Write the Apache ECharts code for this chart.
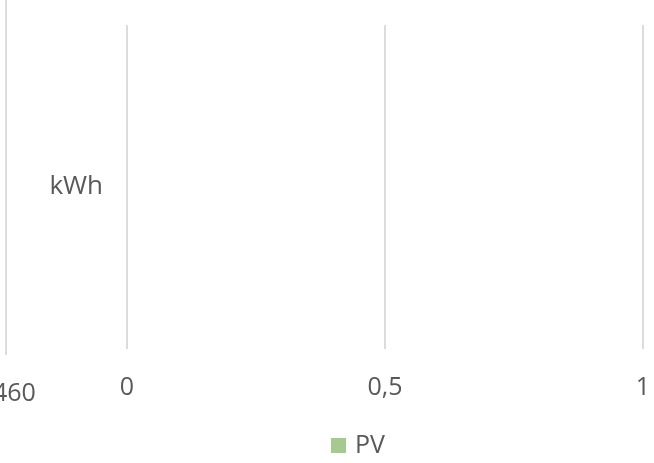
<!DOCTYPE html>
<html>
<head>
<meta charset="utf-8">
<script src="https://cdn.jsdelivr.net/npm/echarts@6/dist/echarts.min.js"></script>
<style>
  html, body { margin: 0; padding: 0; background: #fff; }
  #chart { width: 654px; height: 463px; }
</style>
</head>
<body>
<div id="chart"></div>
<script>
const categories = ['kWh']
const seriesNames = ['PV']
const pvValues = [0]
const axisMin = 0
const axisMax = 1
const axisStep = 0.5

const chart = echarts.init(document.getElementById('chart'))
chart.setOption({
  animation: false,
  textStyle: { fontFamily: 'Open Sans', color: '#595959' },
  grid: { left: 127, right: 11, top: 25, bottom: 114 },
  legend: {
    data: seriesNames,
    bottom: 0,
    left: 326,
    icon: 'rect',
    itemWidth: 15,
    itemHeight: 15,
    itemGap: 6,
    textStyle: { fontSize: 25, color: '#595959', fontFamily: 'Open Sans', padding: [0, 0, 0, 4] }
  },
  xAxis: {
    type: 'value',
    min: axisMin,
    max: axisMax,
    interval: axisStep,
    axisLine: { show: false },
    axisTick: { show: false },
    splitLine: { lineStyle: { color: '#dcdcdc', width: 2 } },
    axisLabel: {
      fontSize: 25,
      color: '#595959',
      margin: 26,
      formatter: v => String(v).replace('.', ',')
    }
  },
  yAxis: {
    type: 'category',
    data: categories,
    axisLine: { show: false },
    axisTick: { show: false },
    axisLabel: { fontSize: 26, color: '#595959', margin: 24 }
  },
  series: [{
    name: seriesNames[0],
    type: 'bar',
    data: pvValues,
    itemStyle: { color: '#a5c98f' }
  }],
  graphic: [
    {
      type: 'line',
      shape: { x1: 6, y1: 0, x2: 6, y2: 355 },
      style: { stroke: '#dcdcdc', lineWidth: 2 }
    },
    {
      type: 'text',
      left: -7,
      top: 381,
      style: { text: '460', fontSize: 25, fill: '#595959', fontFamily: 'Open Sans' }
    }
  ]
})
</script>
</body>
</html>
